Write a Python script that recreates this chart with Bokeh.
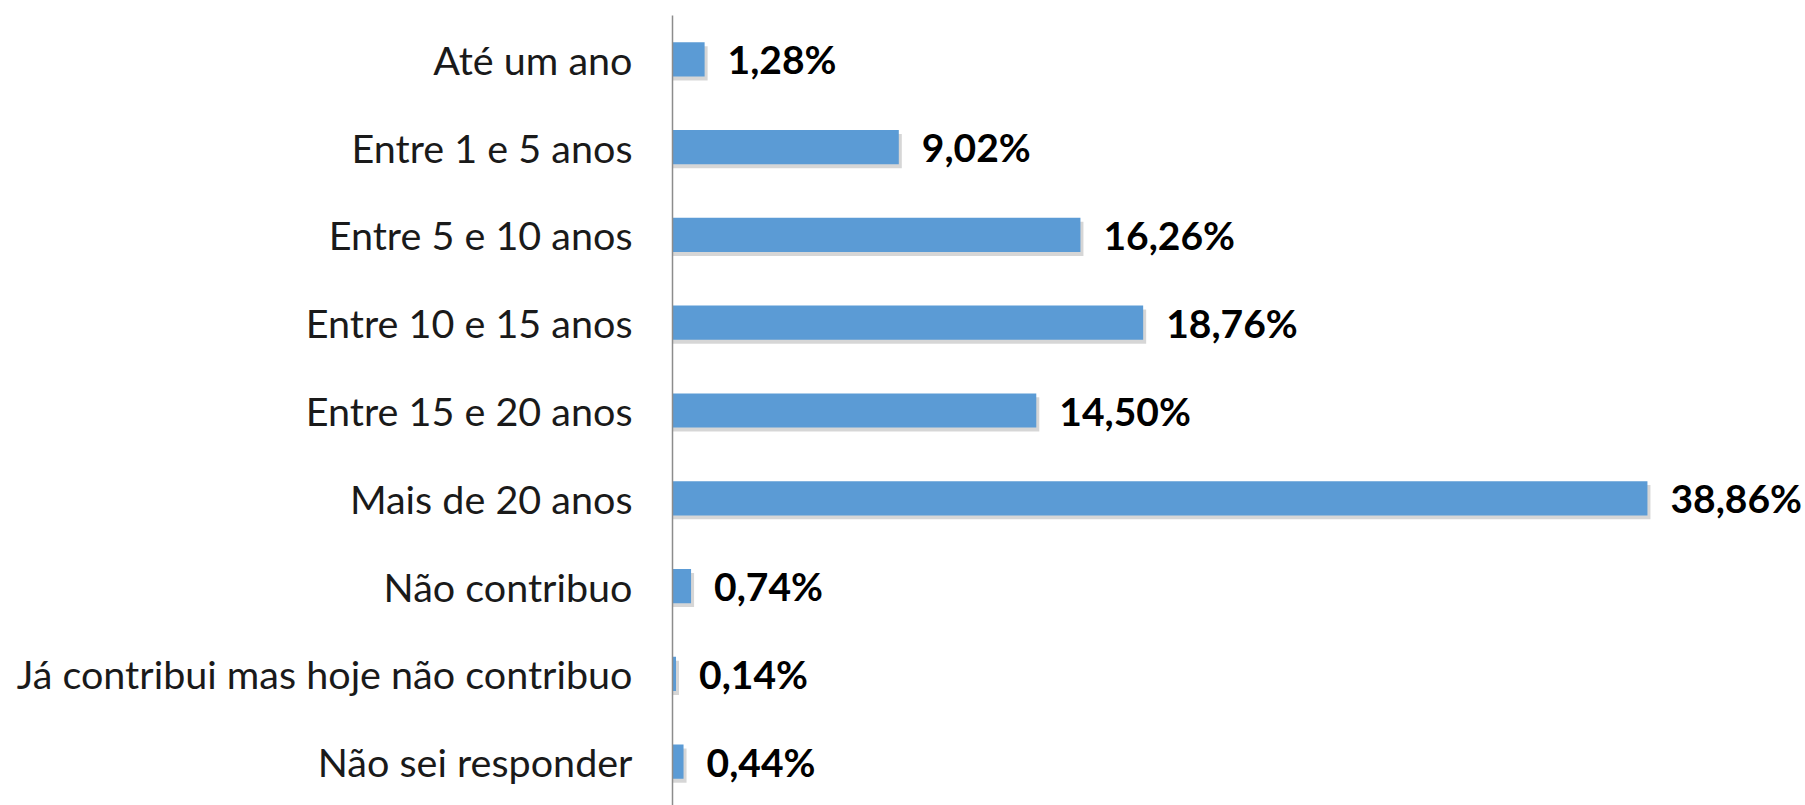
from bokeh.plotting import figure
from bokeh.models import ColumnDataSource, FactorRange
from bokeh.transform import dodge
from bokeh.core.properties import value
from bokeh.embed import file_html
from bokeh.resources import INLINE

categories = [
    "Até um ano",
    "Entre 1 e 5 anos",
    "Entre 5 e 10 anos",
    "Entre 10 e 15 anos",
    "Entre 15 e 20 anos",
    "Mais de 20 anos",
    "Não contribuo",
    "Já contribui mas hoje não contribuo",
    "Não sei responder",
]
values = [1.28, 9.02, 16.26, 18.76, 14.50, 38.86, 0.74, 0.14, 0.44]
labels = [f"{v:.2f}%".replace(".", ",") for v in values]

src = ColumnDataSource(dict(cat=categories, val=values, lab=labels,
                            shadow=[v + 0.12 for v in values]))

p = figure(width=1805, height=805, output_backend="svg", toolbar_location=None,
           y_range=FactorRange(*reversed(categories), range_padding=0),
           x_range=(0, 45.16),
           min_border_left=672, min_border_right=0, min_border_top=15,
           min_border_bottom=0, outline_line_color=None)

p.hbar(y=dodge("cat", -0.045, range=p.y_range), left=0, right="shadow", height=0.39,
       source=src, fill_color="#000000", fill_alpha=0.16, line_color=None)
p.hbar(y="cat", left=0, right="val", height=0.39, source=src,
       fill_color="#5B9BD5", line_color=None)
p.text(x="val", y="cat", text="lab", source=src, x_offset=23,
       text_baseline="middle", text_align="left",
       text_font=value("Lato"), text_font_style="bold",
       text_font_size="39px", text_color="#000000")

p.xaxis.visible = False
p.grid.visible = False
p.yaxis.axis_line_color = "#8c8c8c"
p.yaxis.axis_line_width = 1.5
p.yaxis.major_tick_line_color = None
p.yaxis.minor_tick_line_color = None
p.yaxis.major_label_standoff = 34
p.yaxis.major_label_text_font = "Lato"
p.yaxis.major_label_text_font_size = "39.5px"
p.yaxis.major_label_text_color = "#1a1a1a"

open("out.html", "w").write(file_html(p, INLINE))
